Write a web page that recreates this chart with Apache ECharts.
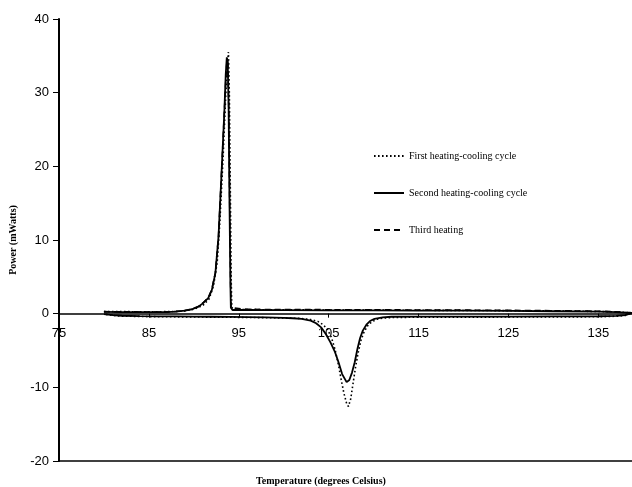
<!DOCTYPE html>
<html>
<head>
<meta charset="utf-8">
<script src="https://cdn.jsdelivr.net/npm/echarts@6/dist/echarts.min.js"></script>
<style>html,body{margin:0;padding:0;background:#fff;}#main{width:632px;height:487px;}</style>
</head>
<body>
<div id="main"></div>
<script>
// Temperatures (degrees Celsius) and power (mW), ascending temperature
var xTicks = [75, 85, 95, 105, 115, 125, 135];
var yTicks = [-20, -10, 0, 10, 20, 30, 40];
var seriesNames = ['First heating-cooling cycle', 'Second heating-cooling cycle', 'Third heating'];

var firstHeating = [[80,0.3],[82,0.28],[84,0.26],[86,0.26],[88,0.3],[89,0.38],[90,0.6],[91,1.1],[91.7,2.0],[92.2,3.8],[92.6,7],[92.9,12.5],[93.25,21],[93.55,29.5],[93.75,34],[93.85,35.5],[93.95,30],[94.05,18],[94.15,5],[94.22,0.9],[94.4,0.55],[96,0.55],[100,0.53],[105,0.5],[110,0.48],[115,0.46],[120,0.44],[125,0.41],[130,0.37],[135,0.3],[137,0.24],[138,0.17],[138.75,0.12]];
var firstCooling = [[80,-0.05],[81,-0.25],[82,-0.33],[85,-0.4],[90,-0.45],[95,-0.5],[100,-0.58],[102,-0.65],[103,-0.8],[103.8,-1.05],[104.4,-1.5],[104.9,-2.2],[105.3,-3.2],[105.7,-4.8],[106.1,-7.0],[106.4,-9.0],[106.7,-10.8],[107.0,-12.2],[107.2,-12.6],[107.45,-11.6],[107.7,-9.6],[108.0,-7.2],[108.3,-5.2],[108.6,-3.6],[108.9,-2.6],[109.3,-1.7],[109.8,-1.1],[110.4,-0.75],[111,-0.6],[112,-0.52],[115,-0.48],[120,-0.47],[125,-0.46],[130,-0.45],[135,-0.42],[137,-0.35],[138,-0.25],[138.75,-0.12]];

var secondHeating = [[80,0.25],[82,0.22],[84,0.2],[86,0.2],[87,0.22],[88,0.28],[89,0.4],[89.8,0.6],[90.5,0.95],[91,1.4],[91.6,2.1],[92,3.2],[92.4,5.5],[92.75,10.5],[93.1,19.5],[93.4,27.5],[93.55,32.5],[93.67,34.8],[93.77,34.2],[93.87,28],[93.97,15],[94.07,4],[94.12,0.8],[94.3,0.5],[96,0.5],[100,0.48],[105,0.46],[110,0.44],[115,0.42],[120,0.4],[125,0.37],[130,0.33],[135,0.28],[137,0.22],[138,0.15],[138.75,0.1]];
var secondCooling = [[80,-0.05],[81,-0.2],[82,-0.28],[84,-0.33],[86,-0.36],[88,-0.38],[90,-0.4],[92,-0.42],[94,-0.44],[96,-0.46],[98,-0.5],[100,-0.56],[101,-0.62],[102,-0.72],[103,-0.95],[103.6,-1.3],[104.2,-1.9],[104.7,-2.8],[105.2,-3.9],[105.7,-5.2],[106.1,-6.6],[106.5,-8.2],[106.8,-9.1],[107.0,-9.3],[107.3,-9.0],[107.6,-8.0],[107.9,-6.6],[108.2,-4.8],[108.5,-3.3],[108.8,-2.3],[109.2,-1.5],[109.6,-1.0],[110.1,-0.7],[111,-0.5],[112,-0.42],[115,-0.4],[120,-0.4],[125,-0.4],[130,-0.38],[135,-0.35],[137,-0.3],[138,-0.2],[138.75,-0.1]];

var thirdHeating = [[80,0.28],[82,0.25],[84,0.23],[86,0.23],[87,0.25],[88,0.3],[89,0.42],[89.8,0.62],[90.5,0.98],[91,1.45],[91.6,2.15],[92,3.3],[92.4,5.6],[92.75,10.6],[93.1,19.6],[93.4,27.5],[93.58,32.3],[93.7,34.5],[93.8,33.8],[93.9,27],[94.0,14],[94.1,3.5],[94.15,0.8],[94.3,0.58],[96,0.58],[100,0.56],[105,0.54],[110,0.52],[115,0.5],[120,0.48],[125,0.45],[130,0.4],[135,0.33],[137,0.26],[138,0.18],[138.75,0.13]];

var frameValue = -20; // bottom border of the plot area

function loop(heat, cool) {
  return heat.concat(cool.slice().reverse());
}

var gridTop = 19, gridBottom = 26, chartH = 487;
var yMin = -20, yMax = 40;
// shift the x axis from the plot bottom up to the y = 0 line
var plotH = chartH - gridTop - gridBottom;
var zeroOffset = -plotH * (0 - yMin) / (yMax - yMin);

var chart = echarts.init(document.getElementById('main'), null, {renderer: 'canvas'});
var axisFont = 'Liberation Sans';
var serif = 'Liberation Serif';
chart.setOption({
  animation: false,
  backgroundColor: '#fff',
  grid: {left: 56, right: 0, top: gridTop, bottom: gridBottom, containLabel: false},
  title: {
    text: 'Temperature (degrees Celsius)',
    left: 316, top: 471, textAlign: 'center',
    textStyle: {fontFamily: serif, fontWeight: 'bold', fontSize: 10, color: '#000'}
  },
  legend: {
    orient: 'vertical', left: 373, top: 151, padding: 0,
    itemWidth: 30, itemHeight: 10, itemGap: 27,
    data: seriesNames,
    itemStyle: {color: 'rgba(0,0,0,0)', borderColor: 'rgba(0,0,0,0)', borderWidth: 0},
    textStyle: {fontFamily: serif, fontSize: 10, color: '#000'}
  },
  xAxis: {
    type: 'value', min: 75, max: 138.75, interval: 10,
    position: 'bottom', offset: zeroOffset,
    axisLine: {onZero: false, lineStyle: {color: '#000', width: 1.5}},
    axisTick: {show: true, inside: false, length: 4, lineStyle: {color: '#000', width: 1}},
    axisLabel: {
      margin: 13, color: '#000', fontFamily: axisFont, fontSize: 13,
      showMaxLabel: false,
      formatter: function (v) { return xTicks.indexOf(v) >= 0 ? String(v) : ''; }
    },
    splitLine: {show: false}
  },
  yAxis: {
    type: 'value', min: yMin, max: yMax, interval: 10,
    name: 'Power (mWatts)', nameLocation: 'middle', nameGap: 41, nameRotate: 90,
    nameTextStyle: {fontFamily: serif, fontWeight: 'bold', fontSize: 10, color: '#000'},
    axisLine: {show: true, onZero: false, lineStyle: {color: '#000', width: 2}},
    axisTick: {show: true, length: 6, lineStyle: {color: '#000', width: 1}},
    axisLabel: {
      margin: 10, color: '#000', fontFamily: axisFont, fontSize: 13,
      formatter: function (v) { return yTicks.indexOf(v) >= 0 ? String(v) : ''; }
    },
    splitLine: {show: false}
  },
  series: [{
    name: seriesNames[0], type: 'line', showSymbol: false, symbol: 'none',
    data: loop(firstHeating, firstCooling), z: 4,
    lineStyle: {color: '#000', width: 1.6, type: [1.6, 2.4], cap: 'butt'},
    itemStyle: {color: '#000'}
  }, {
    name: seriesNames[1], type: 'line', showSymbol: false, symbol: 'none',
    data: loop(secondHeating, secondCooling), z: 3,
    lineStyle: {color: '#000', width: 1.8, type: 'solid'},
    itemStyle: {color: '#000'},
    markLine: {
      silent: true, symbol: 'none', animation: false,
      label: {show: false},
      lineStyle: {color: '#000', width: 1.5, type: 'solid'},
      data: [{yAxis: frameValue}]
    }
  }, {
    name: seriesNames[2], type: 'line', showSymbol: false, symbol: 'none',
    data: thirdHeating, z: 2,
    lineStyle: {color: '#000', width: 1.6, type: [6, 4]},
    itemStyle: {color: '#000'}
  }]
});
</script>
</body>
</html>
